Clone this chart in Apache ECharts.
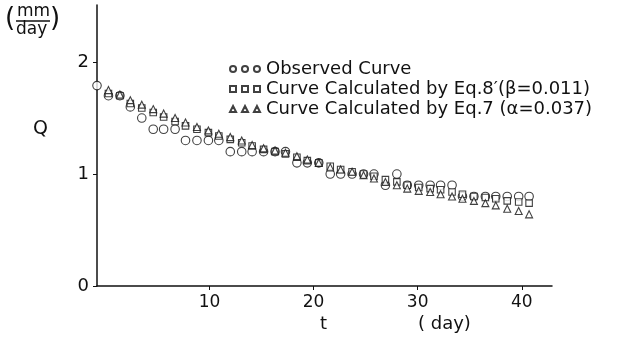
<!DOCTYPE html>
<html>
<head>
<meta charset="utf-8">
<script src="https://cdn.jsdelivr.net/npm/echarts@6/dist/echarts.min.js"></script>
<style>
  html, body { margin: 0; padding: 0; background: #fff; }
  #chart { width: 630px; height: 347px; }
</style>
</head>
<body>
<div id="chart"></div>
<script>
// t of each plotted column, as read against the axis ticks
const days = [-0.8, 0.3, 1.4, 2.4, 3.5, 4.6, 5.6, 6.7, 7.7, 8.8, 9.9, 10.9, 12.0, 13.1,
  14.1, 15.2, 16.3, 17.3, 18.4, 19.4, 20.5, 21.6, 22.6, 23.7, 24.8, 25.8, 26.9, 28.0,
  29.0, 30.1, 31.2, 32.2, 33.3, 34.3, 35.4, 36.5, 37.5, 38.6, 39.7, 40.7];

// observed discharge Q (mm/day)
const observed = [1.79, 1.70, 1.70, 1.60, 1.50, 1.40, 1.40, 1.40, 1.30, 1.30,
  1.30, 1.30, 1.20, 1.20, 1.20, 1.20, 1.20, 1.20, 1.10, 1.10,
  1.10, 1.00, 1.00, 1.00, 1.00, 1.00, 0.90, 1.00, 0.90, 0.90,
  0.90, 0.90, 0.90, 0.80, 0.80, 0.80, 0.80, 0.80, 0.80, 0.80];

// Eq.8' (beta = 0.011)
const eq8 = ['-', 1.72, 1.70, 1.63, 1.59, 1.55, 1.51, 1.47, 1.43, 1.40,
  1.37, 1.34, 1.31, 1.28, 1.25, 1.22, 1.20, 1.18, 1.15, 1.12,
  1.10, 1.07, 1.04, 1.02, 1.00, 0.98, 0.95, 0.93, 0.90, 0.88,
  0.87, 0.86, 0.84, 0.82, 0.80, 0.79, 0.78, 0.76, 0.75, 0.74];

// Eq.7 (alpha = 0.037)
const eq7 = ['-', 1.75, 1.71, 1.66, 1.62, 1.58, 1.54, 1.50, 1.46, 1.42,
  1.39, 1.36, 1.33, 1.30, 1.26, 1.23, 1.21, 1.19, 1.16, 1.13,
  1.10, 1.06, 1.04, 1.02, 0.99, 0.96, 0.93, 0.90, 0.87, 0.85,
  0.84, 0.82, 0.80, 0.78, 0.76, 0.74, 0.72, 0.69, 0.67, 0.64];

const xTicks = [10, 20, 30, 40];
const yTicks = [0, 1, 2];

const seriesNames = [
  'Observed Curve',
  'Curve Calculated by Eq.8\u2032(\u03B2=0.011)',
  'Curve Calculated by Eq.7 (\u03B1=0.037)'
];

const font = 'DejaVu Sans';
const ink = '#111';

const pairs = (ys) => days.map((d, i) => [d, ys[i]]);

const chart = echarts.init(document.getElementById('chart'));

const pointStyle = {
  color: '#fff',
  borderColor: ink,
  borderWidth: 1.1
};

chart.setOption({
  animation: false,
  backgroundColor: '#fff',
  textStyle: { fontFamily: font, color: ink },
  grid: { left: 97, right: 78, top: 5, bottom: 61 },
  legend: {
    orient: 'vertical',
    left: 224,
    top: 54,
    itemGap: 0,
    itemWidth: 30,
    itemHeight: 7,
    textStyle: { fontFamily: font, fontSize: 18, lineHeight: 20, color: ink, padding: [0, 0, 0, 1] },
    data: [
      { name: seriesNames[0], icon: 'path://M1,3.5a2.8,2.8 0 1,0 5.6,0a2.8,2.8 0 1,0 -5.6,0M12,3.5a2.8,2.8 0 1,0 5.6,0a2.8,2.8 0 1,0 -5.6,0M23,3.5a2.8,2.8 0 1,0 5.6,0a2.8,2.8 0 1,0 -5.6,0' },
      { name: seriesNames[1], icon: 'path://M1,1h5.5v5.5h-5.5zM12,1h5.5v5.5h-5.5zM23,1h5.5v5.5h-5.5z' },
      { name: seriesNames[2], icon: 'path://M3.8,1L6.6,6.5H1zM14.8,1L17.6,6.5H12zM25.8,1L28.6,6.5H23z' }
    ]
  },
  xAxis: {
    type: 'value',
    min: -0.8,
    max: 42.9,
    axisLine: { show: true, onZero: false, lineStyle: { color: ink, width: 1.5 } },
    axisTick: { show: true, inside: false, length: 4, customValues: xTicks, lineStyle: { color: ink } },
    axisLabel: { customValues: xTicks, fontSize: 17, color: ink, margin: 8 },
    splitLine: { show: false }
  },
  yAxis: {
    type: 'value',
    min: 0,
    max: 2.51,
    axisLine: { show: true, onZero: false, lineStyle: { color: ink, width: 1.5 } },
    axisTick: { show: true, inside: false, length: 4, customValues: yTicks, lineStyle: { color: ink } },
    axisLabel: { customValues: yTicks, fontSize: 18, color: ink, margin: 8 },
    splitLine: { show: false }
  },
  series: [
    {
      name: seriesNames[0],
      type: 'scatter',
      symbol: 'circle',
      symbolSize: 8.5,
      itemStyle: pointStyle,
      data: pairs(observed),
      z: 3
    },
    {
      name: seriesNames[1],
      type: 'scatter',
      symbol: 'rect',
      symbolSize: 6.5,
      itemStyle: pointStyle,
      data: pairs(eq8),
      z: 4
    },
    {
      name: seriesNames[2],
      type: 'scatter',
      symbol: 'triangle',
      symbolSize: 7,
      itemStyle: pointStyle,
      data: pairs(eq7),
      z: 5
    }
  ],
  graphic: [
    { type: 'text', left: 5, top: 6, style: { text: '(', fontFamily: font, fontSize: 26, fill: ink } },
    { type: 'text', left: 17, top: 3, style: { text: 'mm', fontFamily: font, fontSize: 17, fill: ink } },
    { type: 'line', shape: { x1: 16, y1: 21, x2: 50, y2: 21 }, style: { stroke: ink, lineWidth: 1.3 } },
    { type: 'text', left: 16, top: 21, style: { text: 'day', fontFamily: font, fontSize: 17, fill: ink } },
    { type: 'text', left: 50, top: 6, style: { text: ')', fontFamily: font, fontSize: 26, fill: ink } },
    { type: 'text', left: 33, top: 120, style: { text: 'Q', fontFamily: font, fontSize: 19, fill: ink } },
    { type: 'text', left: 320, top: 315, style: { text: 't', fontFamily: font, fontSize: 18, fill: ink } },
    { type: 'text', left: 418, top: 315, style: { text: '( day)', fontFamily: font, fontSize: 18, fill: ink } }
  ]
});
</script>
</body>
</html>
